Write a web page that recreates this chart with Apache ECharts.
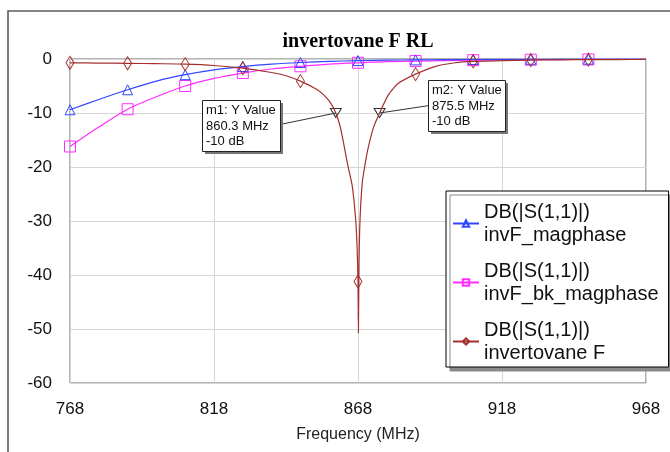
<!DOCTYPE html>
<html>
<head>
<meta charset="utf-8">
<script src="https://cdn.jsdelivr.net/npm/echarts@6/dist/echarts.min.js"></script>
<style>
  html, body { margin: 0; padding: 0; background: #fff; }
  #chart { width: 670px; height: 452px; }
</style>
</head>
<body>
<div id="chart"></div>
<script>
// Frequency axis ticks (MHz) and dB axis range
const xTicks = [768, 818, 868, 918, 968];
const yMin = -60, yMax = 0, yStep = 10;

// Frequencies that carry a series symbol
const markerFreqs = [768, 788, 808, 828, 848, 868, 888, 908, 928, 948];

// Shared sweep for the two magphase traces (MHz)
const freqMag = [768, 778, 788, 798, 808, 818, 828, 838, 848, 858, 868,
                 878, 888, 898, 908, 918, 928, 938, 948, 958, 968];
// DB(|S(1,1)|) invF_magphase
const invF = [-9.4, -7.5, -5.7, -4.1, -2.9, -2.0, -1.4, -0.95, -0.65, -0.45, -0.3,
              -0.22, -0.16, -0.12, -0.09, -0.07, -0.05, -0.04, -0.03, -0.03, -0.02];
// DB(|S(1,1)|) invF_bk_magphase
const invFbk = [-16.2, -12.6, -9.3, -7.0, -5.0, -3.6, -2.6, -1.85, -1.35, -0.95, -0.7,
                -0.5, -0.38, -0.3, -0.22, -0.17, -0.13, -0.1, -0.08, -0.06, -0.05];

// Sweep for the resonant trace, denser around the dip (MHz)
const freqInv = [768, 778, 788, 798, 808, 818, 828, 838, 843, 848, 853.6, 856, 858.3,
                 860.3, 861.8, 862.9, 864.3, 866.0, 867.2, 867.7, 868, 868.15, 868.35,
                 868.7, 869.5, 870.3, 871.4, 873.3, 875.5, 878.5, 882, 888, 894.7,
                 901.7, 908, 918, 928, 938, 948, 958, 968];
// DB(|S(1,1)|) invertovane F
const invertovane = [-0.7, -0.75, -0.8, -0.87, -0.95, -1.2, -1.7, -2.5, -3.1, -4.1, -5.6, -6.6, -8.0,
                     -10, -12.5, -15.3, -19.3, -23.5, -29.8, -35, -41.2, -50.7, -38,
                     -29.8, -22.8, -20, -16.8, -12.8, -10, -6.7, -4.5, -2.8, -1.4,
                     -0.7, -0.45, -0.3, -0.2, -0.15, -0.12, -0.1, -0.08];

// Y Value markers on the resonant trace
const markerNames = ['m1', 'm2'];
const markerFreq = [860.3, 875.5];
const markerDb = [-10, -10];

const seriesNames = ['invF_magphase', 'invF_bk_magphase', 'invertovane F'];
const traceLabel = 'DB(|S(1,1)|)';
const colors = ['#3047ff', '#ff2cff', '#a3302f'];

const sans = '"Liberation Sans", Arial, sans-serif';

function points(freqs, vals, symbol) {
  return freqs.map((f, i) => ({
    value: [f, vals[i]],
    symbol: markerFreqs.includes(f) ? symbol : 'none'
  }));
}

function trace(name, freqs, vals, symbol, size, color, extra) {
  return Object.assign({
    name: name,
    type: 'line',
    data: points(freqs, vals, symbol),
    symbol: symbol,
    symbolSize: size,
    showSymbol: true,
    showAllSymbol: true,
    smooth: 0.3,
    color: color,
    lineStyle: { color: color, width: 1.2 },
    itemStyle: { color: 'rgba(255,255,255,0)', borderColor: color, borderWidth: 1 },
    emphasis: { disabled: true },
    animation: false
  }, extra || {});
}

const chart = echarts.init(document.getElementById('chart'), null, { renderer: 'canvas' });

const option = {
  backgroundColor: '#fff',
  animation: false,
  title: {
    text: 'invertovane F RL',
    left: 358,
    top: 32,
    textAlign: 'center',
    padding: 0,
    textStyle: { fontFamily: '"Liberation Serif", "Times New Roman", serif', fontWeight: 'bold', fontSize: 20, color: '#000' }
  },
  grid: {
    left: 70, right: 24, top: 59, bottom: 69,
    show: true, borderColor: '#666', borderWidth: 1, backgroundColor: '#fff'
  },
  xAxis: {
    type: 'value',
    min: xTicks[0],
    max: xTicks[xTicks.length - 1],
    axisLine: { show: false },
    axisTick: { show: false, customValues: xTicks },
    axisLabel: { customValues: xTicks, fontSize: 17, color: '#111', margin: 18, fontFamily: sans },
    splitLine: { show: true, customValues: xTicks, lineStyle: { color: '#d6d6d6', width: 1 } },
    name: 'Frequency (MHz)',
    nameLocation: 'middle',
    nameGap: 44,
    nameTextStyle: { fontSize: 16, color: '#222', fontFamily: sans }
  },
  yAxis: {
    type: 'value',
    min: yMin, max: yMax, interval: yStep,
    axisLine: { show: false },
    axisTick: { show: false },
    axisLabel: { fontSize: 17, color: '#111', margin: 18, fontFamily: sans },
    splitLine: { show: true, lineStyle: { color: '#d6d6d6', width: 1 } }
  },
  legend: {
    orient: 'vertical',
    left: 446, top: 191,
    data: seriesNames,
    formatter: name => traceLabel + '\n' + name,
    selectedMode: false,
    itemWidth: 26, itemHeight: 8, itemGap: 16,
    padding: [11, 10, 4, 6],
    backgroundColor: '#fff',
    borderColor: '#000', borderWidth: 1,
    shadowColor: '#8a8a8a', shadowBlur: 0, shadowOffsetX: 4, shadowOffsetY: 4,
    textStyle: { fontSize: 20, lineHeight: 23, color: '#111', fontFamily: sans, padding: [0, 0, -23, 0] },
    z: 8
  },
  series: [
    trace(seriesNames[0], freqMag, invF, 'triangle', 10, colors[0], { z: 4 }),
    trace(seriesNames[1], freqMag, invFbk, 'rect', 11, colors[1], { z: 3 }),
    trace(seriesNames[2], freqInv, invertovane, 'diamond', [8, 13], colors[2], {
      z: 5,
      smooth: 0.2,
      markPoint: {
        symbol: 'triangle',
        symbolRotate: 180,
        symbolSize: [11, 9],
        itemStyle: { color: 'rgba(255,255,255,0)', borderColor: '#333', borderWidth: 1 },
        label: { show: false },
        data: markerFreq.map((f, i) => ({ name: markerNames[i], coord: [f, markerDb[i]] }))
      }
    })
  ]
};

chart.setOption(option);

// Readout boxes for the markers, anchored to their plotted positions
const boxSize = [[78, 51], [77, 51]];
const boxOffset = [[-134, -13], [48, -33]];
const graphics = [{
  type: 'rect', silent: true, z: 20,
  shape: { x: 8, y: 11, width: 700, height: 500 },
  style: { fill: 'none', stroke: '#5c5c5c', lineWidth: 1.6 }
}];
markerFreq.forEach((f, i) => {
  const p = chart.convertToPixel({ gridIndex: 0 }, [f, markerDb[i]]);
  const bx = Math.round(p[0] + boxOffset[i][0]);
  const by = Math.round(p[1] + boxOffset[i][1]);
  const [bw, bh] = boxSize[i];
  const attach = i === 0 ? [bx + bw, by + 24.5] : [bx, by + 25.7];
  graphics.push({
    type: 'line', silent: true, z: 18,
    shape: { x1: attach[0], y1: attach[1], x2: p[0], y2: p[1] },
    style: { stroke: '#333', lineWidth: 1 }
  });
  graphics.push({
    type: 'rect', silent: true, z: 18,
    shape: { x: bx + 3, y: by + 3, width: bw, height: bh },
    style: { fill: '#777', stroke: null }
  });
  graphics.push({
    type: 'rect', silent: true, z: 19,
    shape: { x: bx + 0.5, y: by + 0.5, width: bw, height: bh },
    style: { fill: '#fff', stroke: '#222', lineWidth: 1 }
  });
  graphics.push({
    type: 'text', silent: true, z: 19,
    x: bx + 4, y: by + 3,
    style: {
      text: markerNames[i] + ': Y Value\n' + f.toFixed(1) + ' MHz\n' + markerDb[i] + ' dB',
      font: '13px ' + sans,
      lineHeight: 15.3,
      fill: '#111',
      textVerticalAlign: 'top',
      verticalAlign: 'top'
    }
  });
});
chart.setOption({ graphic: graphics });
</script>
</body>
</html>
